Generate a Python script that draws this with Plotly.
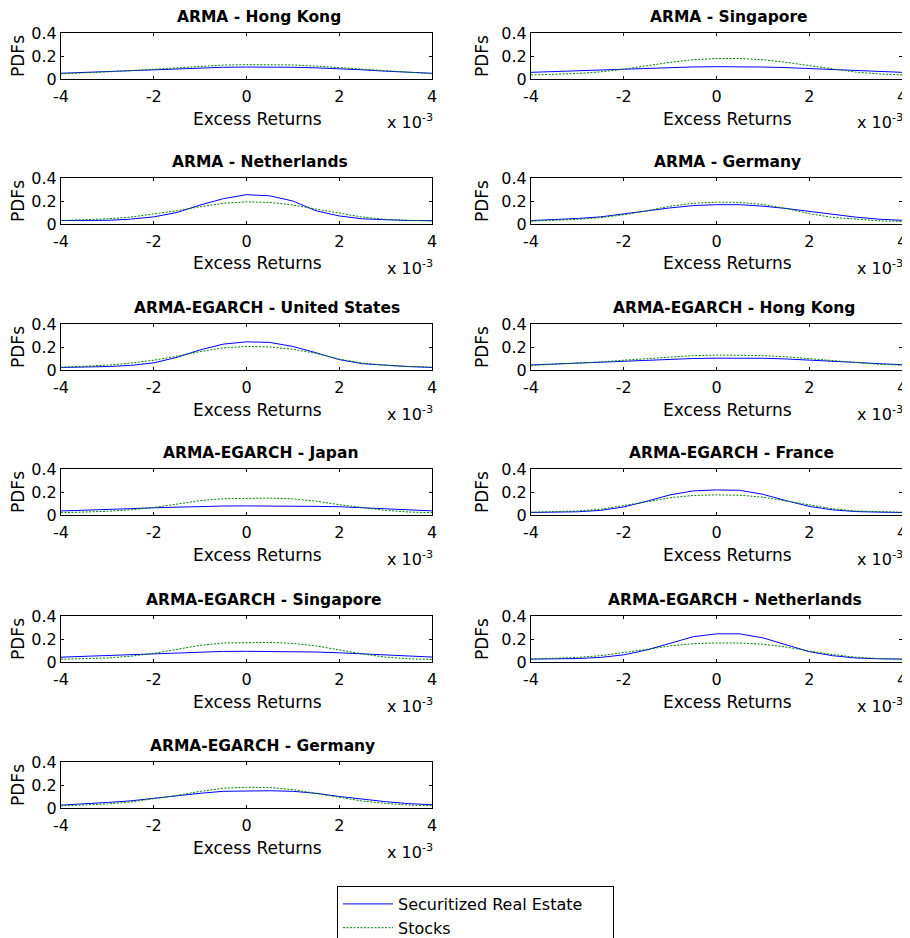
import plotly.graph_objects as go

# ---------------- data ----------------
x_vals = [-4, -3.5, -3, -2.5, -2, -1.5, -1, -0.5, 0, 0.5, 1, 1.5, 2, 2.5, 3, 3.5, 4]
x_tick_vals = [-4, -2, 0, 2, 4]
x_tick_text = ["-4", "-2", "0", "2", "4"]
y_tick_vals = [0, 0.2, 0.4]
y_tick_text = ["0", "0.2", "0.4"]
series_names = ["Securitized Real Estate", "Stocks"]

titles = [
    "ARMA - Hong Kong", "ARMA - Singapore",
    "ARMA - Netherlands", "ARMA - Germany",
    "ARMA-EGARCH - United States", "ARMA-EGARCH - Hong Kong",
    "ARMA-EGARCH - Japan", "ARMA-EGARCH - France",
    "ARMA-EGARCH - Singapore", "ARMA-EGARCH - Netherlands",
    "ARMA-EGARCH - Germany",
]

re_arma_hk = [0.050, 0.058, 0.066, 0.074, 0.082, 0.090, 0.097, 0.102, 0.104, 0.104, 0.102, 0.097, 0.090, 0.080, 0.068, 0.058, 0.050]
st_arma_hk = [0.045, 0.052, 0.062, 0.073, 0.086, 0.100, 0.112, 0.121, 0.125, 0.126, 0.122, 0.112, 0.098, 0.083, 0.068, 0.055, 0.046]

re_arma_sg = [0.058, 0.065, 0.072, 0.080, 0.087, 0.094, 0.100, 0.105, 0.107, 0.107, 0.104, 0.099, 0.092, 0.084, 0.075, 0.066, 0.058]
st_arma_sg = [0.035, 0.040, 0.048, 0.062, 0.085, 0.115, 0.145, 0.168, 0.178, 0.178, 0.168, 0.145, 0.115, 0.085, 0.060, 0.044, 0.036]

re_arma_nl = [0.030, 0.030, 0.032, 0.042, 0.062, 0.100, 0.165, 0.220, 0.255, 0.245, 0.200, 0.115, 0.070, 0.045, 0.035, 0.030, 0.030]
st_arma_nl = [0.030, 0.035, 0.045, 0.060, 0.085, 0.115, 0.150, 0.180, 0.192, 0.188, 0.165, 0.130, 0.090, 0.060, 0.040, 0.030, 0.025]

re_arma_de = [0.030, 0.037, 0.048, 0.062, 0.090, 0.115, 0.140, 0.160, 0.168, 0.168, 0.155, 0.135, 0.110, 0.085, 0.060, 0.042, 0.032]
st_arma_de = [0.025, 0.030, 0.040, 0.055, 0.080, 0.115, 0.155, 0.180, 0.190, 0.188, 0.170, 0.135, 0.090, 0.058, 0.040, 0.028, 0.022]

re_eg_us = [0.022, 0.025, 0.030, 0.040, 0.062, 0.110, 0.175, 0.225, 0.245, 0.240, 0.205, 0.150, 0.090, 0.055, 0.040, 0.030, 0.022]
st_eg_us = [0.024, 0.030, 0.042, 0.060, 0.085, 0.120, 0.160, 0.192, 0.205, 0.200, 0.180, 0.145, 0.095, 0.060, 0.040, 0.030, 0.025]

re_eg_hk = [0.044, 0.052, 0.060, 0.068, 0.076, 0.085, 0.094, 0.100, 0.103, 0.104, 0.102, 0.096, 0.088, 0.078, 0.066, 0.055, 0.046]
st_eg_hk = [0.040, 0.048, 0.058, 0.070, 0.085, 0.100, 0.115, 0.125, 0.130, 0.130, 0.125, 0.115, 0.098, 0.080, 0.063, 0.050, 0.042]

re_eg_jp = [0.035, 0.040, 0.047, 0.055, 0.063, 0.070, 0.075, 0.078, 0.079, 0.079, 0.078, 0.075, 0.072, 0.065, 0.055, 0.045, 0.036]
st_eg_jp = [0.020, 0.025, 0.032, 0.045, 0.065, 0.095, 0.125, 0.142, 0.147, 0.147, 0.140, 0.120, 0.090, 0.062, 0.040, 0.026, 0.020]

re_eg_fr = [0.022, 0.024, 0.028, 0.040, 0.070, 0.120, 0.175, 0.210, 0.218, 0.215, 0.180, 0.125, 0.075, 0.045, 0.030, 0.025, 0.022]
st_eg_fr = [0.024, 0.027, 0.035, 0.050, 0.080, 0.115, 0.150, 0.170, 0.175, 0.172, 0.155, 0.120, 0.085, 0.055, 0.035, 0.027, 0.024]

re_eg_sg = [0.042, 0.050, 0.058, 0.066, 0.074, 0.082, 0.088, 0.092, 0.093, 0.093, 0.091, 0.087, 0.080, 0.072, 0.062, 0.052, 0.043]
st_eg_sg = [0.024, 0.028, 0.035, 0.050, 0.075, 0.110, 0.145, 0.165, 0.170, 0.170, 0.162, 0.140, 0.105, 0.070, 0.042, 0.028, 0.022]

re_eg_nl = [0.025, 0.027, 0.030, 0.040, 0.062, 0.105, 0.165, 0.220, 0.245, 0.245, 0.210, 0.150, 0.090, 0.055, 0.035, 0.028, 0.025]
st_eg_nl = [0.025, 0.030, 0.040, 0.055, 0.080, 0.110, 0.140, 0.160, 0.165, 0.165, 0.155, 0.130, 0.095, 0.065, 0.042, 0.030, 0.025]

re_eg_de = [0.025, 0.035, 0.048, 0.062, 0.085, 0.108, 0.128, 0.145, 0.150, 0.150, 0.145, 0.128, 0.100, 0.075, 0.055, 0.038, 0.028]
st_eg_de = [0.018, 0.025, 0.035, 0.052, 0.078, 0.110, 0.145, 0.172, 0.180, 0.178, 0.160, 0.128, 0.090, 0.060, 0.040, 0.026, 0.020]

real_estate = [re_arma_hk, re_arma_sg, re_arma_nl, re_arma_de, re_eg_us, re_eg_hk,
               re_eg_jp, re_eg_fr, re_eg_sg, re_eg_nl, re_eg_de]
stocks = [st_arma_hk, st_arma_sg, st_arma_nl, st_arma_de, st_eg_us, st_eg_hk,
          st_eg_jp, st_eg_fr, st_eg_sg, st_eg_nl, st_eg_de]

# ---------------- layout geometry (screen pixels) ----------------
W, H = 910, 938
OFF = 8  # page body margin of the html page
col_left = [61, 531]
col_right = [432, 902]
row_top = [33, 178, 324, 469, 616, 762]
PH = 46
FONT = "DejaVu Sans, Liberation Sans, Arial, sans-serif"
FS = 16
PAD = "\u00a0" * 5  # widens the legend box like the reference


def px(x):
    return (x - OFF) / W


def py(y):
    return 1 - (y - OFF) / H


fig = go.Figure()
layout = {}
annotations = []

for i, title in enumerate(titles):
    r, c = divmod(i, 2)
    k = i + 1
    xa = "x" if k == 1 else f"x{k}"
    ya = "y" if k == 1 else f"y{k}"
    fig.add_trace(go.Scatter(
        x=x_vals, y=real_estate[i], xaxis=xa, yaxis=ya, mode="lines",
        line=dict(color="#0000ff", width=1),
        name=series_names[0] + PAD, legendgroup="re", showlegend=(i == 0)))
    fig.add_trace(go.Scatter(
        x=x_vals, y=stocks[i], xaxis=xa, yaxis=ya, mode="lines",
        line=dict(color="#008000", width=1, dash="2px,1.5px"),
        name=series_names[1], legendgroup="st", showlegend=(i == 0)))

    top = row_top[r]
    bottom = top + PH
    cx = (col_left[c] + col_right[c]) / 2
    x0, x1 = px(col_left[c]), px(col_right[c])
    y0, y1 = py(bottom), py(top)

    common = dict(showline=True, linecolor="black", linewidth=1, mirror="ticks",
                  ticks="inside", ticklen=3, tickcolor="black", showgrid=False,
                  zeroline=False, automargin=False, ticklabeloverflow="allow",
                  tickfont=dict(size=FS, color="black", family=FONT))
    layout["xaxis" + ("" if k == 1 else str(k))] = dict(
        domain=[x0, x1], anchor=ya, range=[-4, 4], tickvals=x_tick_vals,
        ticktext=x_tick_text, ticklabelstandoff=3,
        **common)
    layout["yaxis" + ("" if k == 1 else str(k))] = dict(
        domain=[y0, y1], anchor=xa, range=[0, 0.4], tickvals=y_tick_vals,
        ticktext=y_tick_text,
        title=dict(text="PDFs", standoff=8,
                   font=dict(size=17, color="black", family=FONT)),
        **common)

    # panel title (MATLAB places it slightly right of centre)
    annotations.append(dict(
        text="<b>" + title + "</b>", x=px(cx + 0.75 * len(title)), y=py(top - 16.5),
        xref="paper", yref="paper", xanchor="center", yanchor="middle",
        showarrow=False, font=dict(size=15.5, color="black", family=FONT)))
    # x-axis label
    annotations.append(dict(
        text="Excess Returns", x=px(cx + 11), y=py(bottom + 39.5),
        xref="paper", yref="paper", xanchor="center", yanchor="middle",
        showarrow=False, font=dict(size=17, color="black", family=FONT)))
    # exponent label
    annotations.append(dict(
        text="x 10<sup>-3</sup>", x=px(col_right[c] + 3), y=py(bottom + 43),
        xref="paper", yref="paper", xanchor="right", yanchor="middle",
        showarrow=False, font=dict(size=FS, color="black", family=FONT)))

fig.update_layout(
    width=W, height=H,
    margin=dict(l=0, r=0, t=0, b=0, autoexpand=False),
    paper_bgcolor="white", plot_bgcolor="white",
    font=dict(family=FONT, size=FS, color="black"),
    annotations=annotations,
    legend=dict(x=px(337), y=py(886), xanchor="left", yanchor="top",
                bordercolor="black", borderwidth=1, bgcolor="white",
                font=dict(size=16, color="black", family=FONT),
                tracegroupgap=0, itemwidth=50),
    **layout,
)

fig.write_html("out.html")
